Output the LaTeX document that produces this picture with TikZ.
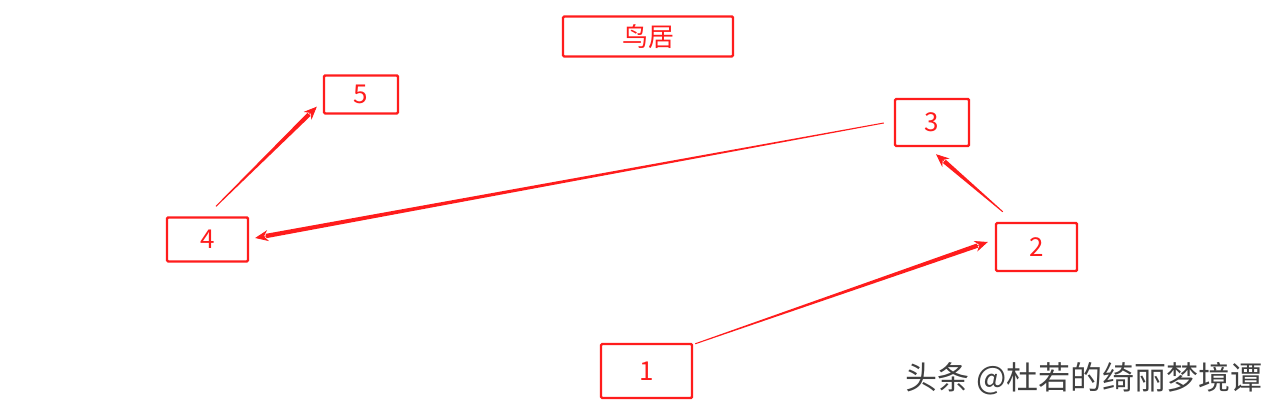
\documentclass[tikz,border=0pt]{standalone}
\usepackage{fontspec}
\setmainfont{Noto Sans CJK SC}
\usetikzlibrary{calc,arrows.meta}
\definecolor{boxred}{RGB}{255,28,28}

\tikzset{
  stepbox/.style={draw=boxred,line width=1.2pt,rounded corners=0.6pt,inner sep=0pt,
    text=boxred,font=\fontsize{13}{15}\selectfont},
  wmark/.style={text=black!75,font=\fontsize{16}{18}\selectfont,inner sep=0pt,anchor=west}
}

% tapered red arrow from #1 to #2
\newcommand{\wedgearrow}[2]{%
  \coordinate (wb) at ($(#2)!5.5pt!(#1)$);
  \fill[boxred] ($(#1)!0.25pt!90:(#2)$) -- ($(wb)!1.1pt!-90:(#1)$)
    -- ($(wb)!1.1pt!90:(#1)$) -- ($(#1)!0.25pt!-90:(#2)$) -- cycle;
  \draw[boxred,line width=0.4pt,-{Stealth[length=6.5pt,width=5.5pt]}] ($(#2)!6pt!(#1)$) -- (#2);
}

\begin{document}
\begin{tikzpicture}[x=0.5pt,y=-0.5pt]
\useasboundingbox[fill=white] (0,0) rectangle (1280,410);

\node[stepbox,minimum width=85pt,minimum height=20pt] (torii) at (648,36.5) {鸟居};
\node[stepbox,minimum width=45.5pt,minimum height=27pt] (b1) at (646.5,371) {1};
\node[stepbox,minimum width=40.5pt,minimum height=24pt] (b2) at (1036.5,247) {2};
\node[stepbox,minimum width=37pt,minimum height=23.5pt] (b3) at (932,122.5) {3};
\node[stepbox,minimum width=40.5pt,minimum height=22pt] (b4) at (207.5,239.5) {4};
\node[stepbox,minimum width=37pt,minimum height=19pt] (b5) at (361,94.5) {5};

% arrow ends
\coordinate (s12) at ($(b1.north east)+(2,1)$);
\coordinate (e12) at ($(b2.west)+(-7,-5)$);
\coordinate (s23) at ($(b2.north west)+(8,-10)$);
\coordinate (e23) at ($(b3.south)+(4,7)$);
\coordinate (s34) at ($(b3.west)+(-10,0.5)$);
\coordinate (e34) at ($(b4.east)+(6,-1.5)$);
\coordinate (s45) at ($(b4.north)+(8.5,-10)$);
\coordinate (e45) at ($(b5.south west)+(-6,-8)$);

\wedgearrow{s12}{e12}
\wedgearrow{s23}{e23}
\wedgearrow{s34}{e34}
\wedgearrow{s45}{e45}

\node[wmark] (mark) at (905,379) {头条 @杜若的绮丽梦境谭};
\end{tikzpicture}
\end{document}
